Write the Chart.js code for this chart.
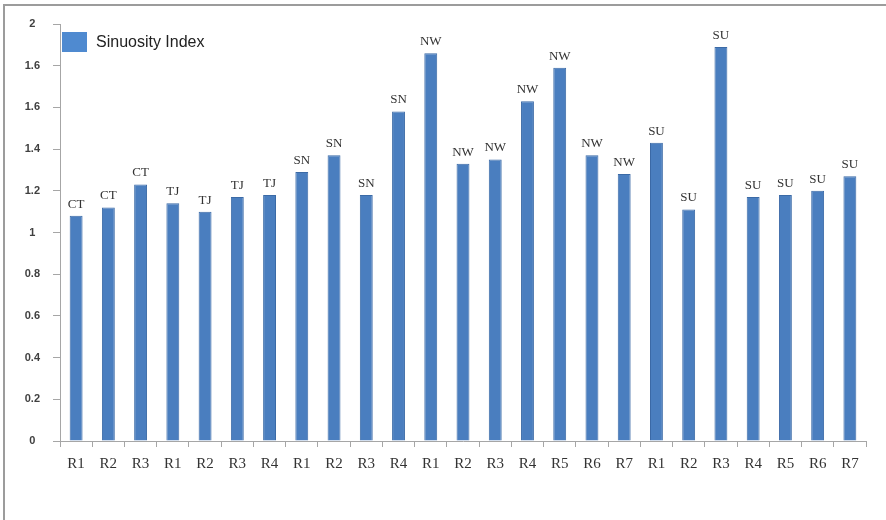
<!DOCTYPE html>
<html>
<head>
<meta charset="utf-8">
<script src="https://cdn.jsdelivr.net/npm/chart.js@4/dist/chart.umd.min.js"></script>
<style>
  html, body { margin: 0; padding: 0; background: #fff; }
  #wrap { position: relative; width: 886px; height: 520px; }
  #frame {
    position: absolute; left: 3px; top: 4px; right: 0; bottom: 0;
    border-top: 2px solid #9c9c9c; border-left: 2px solid #9c9c9c;
    pointer-events: none;
  }
  canvas { position: absolute; left: 0; top: 0; }
</style>
</head>
<body>
<div id="wrap">
  <canvas id="chart" width="886" height="520"></canvas>
  <div id="frame"></div>
</div>
<script>
// reach labels along the x axis
const reaches = ["R1", "R2", "R3", "R1", "R2", "R3", "R4", "R1", "R2", "R3", "R4",
  "R1", "R2", "R3", "R4", "R5", "R6", "R7", "R1", "R2", "R3", "R4", "R5", "R6", "R7"];
// river code printed above each bar
const rivers = ["CT", "CT", "CT", "TJ", "TJ", "TJ", "TJ", "SN", "SN", "SN", "SN",
  "NW", "NW", "NW", "NW", "NW", "NW", "NW", "SU", "SU", "SU", "SU", "SU", "SU", "SU"];
const sinuosity = [1.08, 1.12, 1.23, 1.14, 1.10, 1.17, 1.18, 1.29, 1.37, 1.18, 1.58,
  1.86, 1.33, 1.35, 1.63, 1.79, 1.37, 1.28, 1.43, 1.11, 1.89, 1.17, 1.18, 1.20, 1.27];
// y tick labels as printed on the axis (0 .. 2 in steps of 0.2)
const yTickLabels = ["0", "0.2", "0.4", "0.6", "0.8", "1", "1.2", "1.4", "1.6", "1.6", "2"];

const axisGray = "#a6a6a6";

// river codes above the bars
const riverLabels = {
  id: "riverLabels",
  afterDatasetsDraw(chart) {
    const ctx = chart.ctx;
    const meta = chart.getDatasetMeta(0);
    ctx.save();
    ctx.font = "13px 'Liberation Serif', serif";
    ctx.fillStyle = "#333";
    ctx.textAlign = "center";
    ctx.textBaseline = "bottom";
    meta.data.forEach((bar, i) => {
      ctx.fillText(rivers[i], bar.x, bar.y - 5);
    });
    ctx.restore();
  }
};

// legend box drawn inside the plot area, top left
const innerLegend = {
  id: "innerLegend",
  afterDraw(chart) {
    const ctx = chart.ctx;
    const ds = chart.data.datasets[0];
    ctx.save();
    ctx.fillStyle = "#4f8ad0";
    ctx.fillRect(62, 32, 25, 20);
    ctx.font = "16px 'Liberation Sans', sans-serif";
    ctx.fillStyle = "#222";
    ctx.textBaseline = "middle";
    ctx.fillText(ds.label, 96, 43);
    ctx.restore();
  }
};

new Chart(document.getElementById("chart"), {
  type: "bar",
  data: {
    labels: reaches,
    datasets: [{
      label: "Sinuosity Index",
      data: sinuosity,
      backgroundColor: "#4a7ebf",
      borderColor: "#3b6aa6",
      borderWidth: 1,
      barPercentage: 0.4,
      categoryPercentage: 1.0
    }]
  },
  options: {
    responsive: false,
    animation: false,
    layout: { padding: { left: 8, top: 24, right: 20, bottom: 0 } },
    plugins: {
      legend: { display: false },
      tooltip: { enabled: false }
    },
    scales: {
      x: {
        offset: true,
        grid: {
          drawOnChartArea: false,
          color: axisGray,
          tickLength: 6,
          offset: true
        },
        border: { color: axisGray, width: 1 },
        ticks: {
          padding: 8,
          maxRotation: 0,
          autoSkip: false,
          color: "#333",
          font: { family: "'Liberation Serif', serif", size: 15 }
        },
        afterFit(scale) { scale.height = 79; }
      },
      y: {
        min: 0,
        max: 2,
        grid: {
          drawOnChartArea: false,
          color: axisGray,
          tickLength: 7
        },
        border: { color: axisGray, width: 1 },
        ticks: {
          stepSize: 0.2,
          padding: 13,
          crossAlign: "center",
          color: "#404040",
          font: { family: "'Liberation Sans', sans-serif", size: 11, weight: "bold" },
          callback: (value, index) => yTickLabels[index]
        },
        afterFit(scale) { scale.width = 52; }
      }
    }
  },
  plugins: [riverLabels, innerLegend]
});
</script>
</body>
</html>
